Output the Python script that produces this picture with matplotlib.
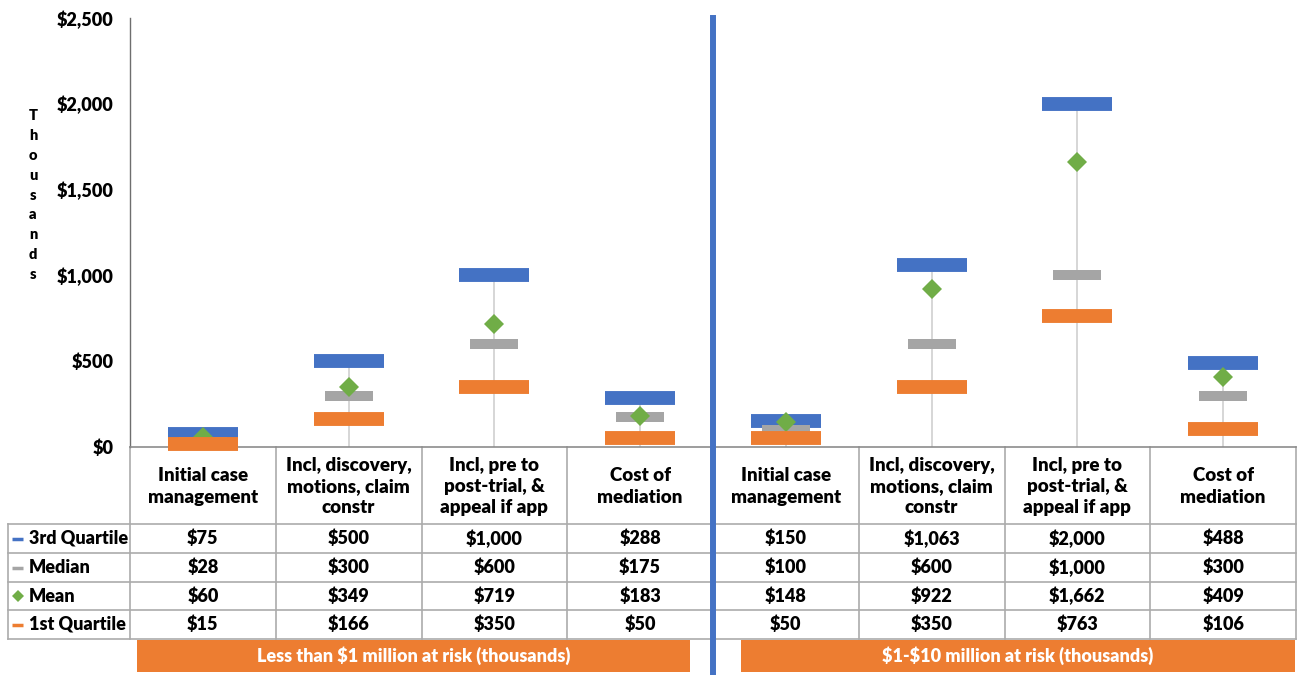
import matplotlib.pyplot as plt
from matplotlib.ticker import FuncFormatter

plt.rcParams['font.family'] = ['Lato', 'DejaVu Sans']
plt.rcParams['font.weight'] = 'bold'

# data (thousands of $)
categories = ["Initial case\nmanagement", "Incl, discovery,\nmotions, claim\nconstr",
              "Incl, pre to\npost-trial, &\nappeal if app", "Cost of\nmediation"] * 2
q3 = [75, 500, 1000, 288, 150, 1063, 2000, 488]
median = [28, 300, 600, 175, 100, 600, 1000, 300]
mean = [60, 349, 719, 183, 148, 922, 1662, 409]
q1 = [15, 166, 350, 50, 50, 350, 763, 106]
series_names = ["3rd Quartile", "Median", "Mean", "1st Quartile"]
groups = ["Less than $1 million at risk (thousands)", "$1-$10 million at risk (thousands)"]

BLUE, GRAY, GREEN, ORANGE = "#4472C4", "#A5A5A5", "#70AD47", "#ED7D31"
GRID = "#ABABAB"
FS = 13

W, H = 1297, 675
fig = plt.figure(figsize=(W / 100, H / 100), dpi=100)

# pixel layout
left, right, top, base = 130, 1296, 18, 447
n = len(categories)
colw = (right - left) / n
row_edges = [447, 524, 553, 582, 610, 639]

# overlay in pixel coords for the data table
ov = fig.add_axes([0, 0, 1, 1], zorder=-1)
ov.set_xlim(0, W)
ov.set_ylim(H, 0)
ov.axis('off')

ax = fig.add_axes([left / W, 1 - base / H, (right - left) / W, (base - top) / H])
ax.set_facecolor('none')
xs = [i + 0.5 for i in range(n)]

# high-low style lines from 0 to 3rd quartile
for x, v in zip(xs, q3):
    ax.plot([x, x], [0, v], color="#D0D0D0", lw=1.2, zorder=1)

ax.plot(xs, q3, ls='none', marker='_', ms=50.4, mew=10, color=BLUE, clip_on=False, zorder=2)
ax.plot(xs, median, ls='none', marker='_', ms=35, mew=7.2, color=GRAY, clip_on=False, zorder=3)
ax.plot(xs, mean, ls='none', marker='D', ms=10, color=GREEN, mew=0, clip_on=False, zorder=4)
ax.plot(xs, q1, ls='none', marker='_', ms=50.4, mew=10, color=ORANGE, clip_on=False, zorder=5)

ax.set_xlim(0, n)
ax.set_ylim(0, 2500)
ax.set_yticks(range(0, 2501, 500))
ax.yaxis.set_major_formatter(FuncFormatter(lambda v, p: f"${int(v):,}"))
ax.tick_params(axis='y', length=0, pad=12, labelsize=FS)
for lab in ax.get_yticklabels():
    lab.set_fontweight('heavy')
ax.set_xticks([])
for s in ['top', 'right']:
    ax.spines[s].set_visible(False)
ax.spines['left'].set_color('#6E6E6E')
ax.spines['left'].set_linewidth(1.0)
ax.spines['bottom'].set_color('#8C8C8C')
ax.spines['bottom'].set_linewidth(1.2)

# "Thousands" stacked label
ov.text(33, 195, "\n".join("Thousands"), ha='center', va='center', fontsize=10.5,
        linespacing=1.62, fontweight='heavy')

# divider between the two groups
ax.axvline(n / 2, ymin=-(H - base) / (base - top), ymax=1, color=BLUE, lw=4.3,
           clip_on=False, zorder=10)

# table grid
for i in range(n + 1):
    x = left + i * colw
    ov.plot([x, x], [base, row_edges[-1]], color=GRID, lw=1.2)
ov.plot([8, 8], [row_edges[1], row_edges[-1]], color=GRID, lw=1.2)
for y in row_edges[1:]:
    ov.plot([8, right], [y, y], color=GRID, lw=1.2)

# header cells
for i, c in enumerate(categories):
    ov.text(left + (i + 0.5) * colw, (row_edges[0] + row_edges[1]) / 2 + 1, c,
            ha='center', va='center', fontsize=13.5, linespacing=1.3, fontweight='heavy')

# rows
series = [q3, median, mean, q1]
colors = [BLUE, GRAY, GREEN, ORANGE]
for r, (name, vals, col) in enumerate(zip(series_names, series, colors)):
    yc = (row_edges[r + 1] + row_edges[r + 2]) / 2
    if name == "Mean":
        ov.plot([18], [yc], marker='D', ms=6, color=col, mew=0)
    else:
        ov.plot([12, 23], [yc, yc], color=col, lw=2.5, solid_capstyle='butt')
    ov.text(29, yc, name, ha='left', va='center', fontsize=FS, fontweight='heavy')
    for i, v in enumerate(vals):
        ov.text(left + (i + 0.5) * colw, yc, f"${v:,}", ha='center', va='center',
                fontsize=FS, fontweight='heavy', parse_math=False)

# group banners
banners = [(137, 690), (741, 1295)]
for (x0, x1), g in zip(banners, groups):
    ov.add_patch(plt.Rectangle((x0, 640), x1 - x0, 32, color=ORANGE, lw=0))
    ov.text((x0 + x1) / 2, 656, g, ha='center', va='center', color='white',
            fontsize=FS, fontweight='heavy', parse_math=False)

fig.savefig("out.png", dpi=100)
